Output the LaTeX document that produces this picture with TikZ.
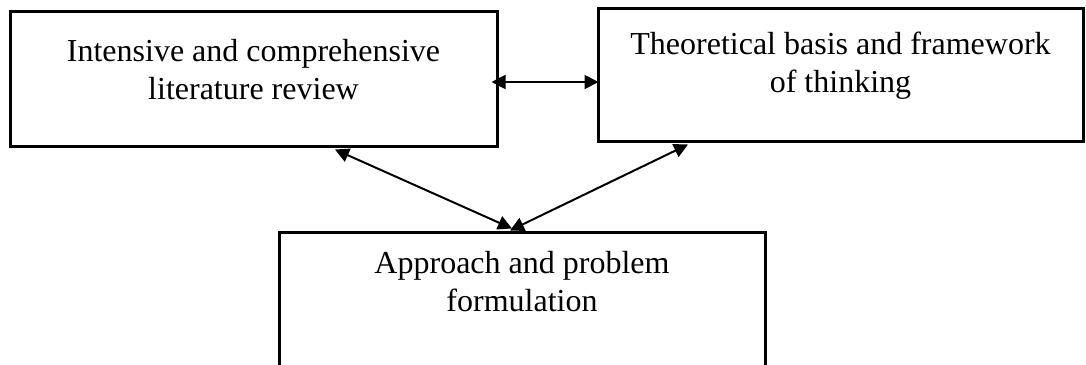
\documentclass[tikz,border=0pt]{standalone}
\usepackage{fontspec}
\setmainfont{Liberation Serif}
\usetikzlibrary{arrows.meta,positioning}
\tikzset{
  box/.style={draw, line width=1.5pt, inner sep=0pt},
  txt/.style={align=center, inner sep=0pt, anchor=north, font=\fontsize{16}{19}\selectfont},
  link/.style={{Triangle[length=7pt,width=7pt]}-{Triangle[length=7pt,width=7pt]}, line width=1pt}
}
\begin{document}
\begin{tikzpicture}[x=0.5pt,y=-0.5pt]
      \clip (0,0) rectangle (1086,364);
      \node[box, minimum width=243.5pt, minimum height=67.5pt] (lit) at (253.5,78.5) {};
      \node[box, minimum width=242.5pt, minimum height=66.5pt] (theory) at (840.5,74.5) {};
      \node[box, minimum width=243pt, minimum height=70pt] (appr) at (522,302) {};
      \node[txt] (littext) at ([yshift=-14.5pt]lit.north) {Intensive and comprehensive\\literature review};
      \node[txt] (theorytext) at ([yshift=-12.5pt]theory.north) {Theoretical basis and framework\\of thinking};
      \node[txt] (apprtext) at ([yshift=-10pt]appr.north) {Approach and problem\\formulation};
      \draw[link] ([xshift=-3.5pt,yshift=-1.75pt]lit.east) -- ([xshift=1pt,yshift=-3.75pt]theory.west);
      \draw[link] ([xshift=40.75pt,yshift=-1pt]lit.south) -- ([xshift=-5pt,yshift=1pt]appr.north);
      \draw[link] ([xshift=-76.25pt,yshift=-1pt]theory.south) -- ([xshift=-6pt]appr.north);
    \end{tikzpicture}
\end{document}
